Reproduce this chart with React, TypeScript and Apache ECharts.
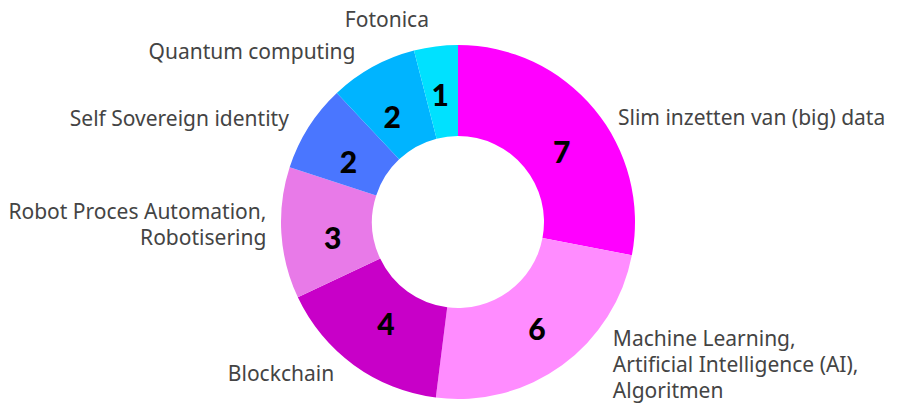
import React, { useEffect, useRef } from "react";
import * as echarts from "echarts";

const categories = [
  "Slim inzetten van (big) data",
  "Machine Learning,\nArtificial Intelligence (AI),\nAlgoritmen",
  "Blockchain",
  "Robot Proces Automation,\nRobotisering",
  "Self Sovereign identity",
  "Quantum computing",
  "Fotonica",
];
const values = [7, 6, 4, 3, 2, 2, 1];
const colors = ["#ff00ff", "#ff8cff", "#c800c8", "#e87ae8", "#4a76ff", "#00b4ff", "#00e1ff"];
// per-label nudges (layout only)
const outerShift = [
  [7, 17],
  [37, -13],
  [-6, -4],
  [5, -10],
  [-2, -1],
  [-5, -3],
  [0, -13],
];
const innerShift = [
  [0, 15],
  [0, -3],
  [7, -8],
  [9, 7],
  [4, 11],
  [-1, 12],
  [-1, 5],
];

export default function App() {
  const ref = useRef<HTMLDivElement>(null);
  useEffect(() => {
    if (!ref.current) return;
    const chart = echarts.init(ref.current, null, { renderer: "svg" });
    const data = categories.map((c, i) => ({ name: c, value: values[i], itemStyle: { color: colors[i] } }));
    chart.setOption({
      animation: false,
      backgroundColor: "#ffffff",
      series: [
        {
          type: "pie",
          center: [458, 222],
          radius: [86, 177],
          startAngle: 90,
          clockwise: true,
          avoidLabelOverlap: false,
          silent: true,
          data,
          label: {
            show: true,
            position: "outside",
            color: "#444444",
            fontFamily: "Noto Sans",
            fontSize: 21,
            lineHeight: 26,
            formatter: "{b}",
          },
          labelLine: { show: false, length: 15, length2: 0 },
          labelLayout: (p: any) => {
            const s = outerShift[p.dataIndex] || [0, 0];
            return { dx: s[0], dy: s[1] };
          },
        },
        {
          type: "pie",
          center: [458, 222],
          radius: [86, 177],
          startAngle: 90,
          clockwise: true,
          avoidLabelOverlap: false,
          silent: true,
          data: categories.map((c, i) => ({ name: c, value: values[i] })),
          itemStyle: { color: "rgba(0,0,0,0)" },
          label: {
            show: true,
            position: "inside",
            color: "#000000",
            fontFamily: "Lato",
            fontWeight: 900,
            fontSize: 30,
            formatter: "{c}",
          },
          labelLine: { show: false },
          labelLayout: (p: any) => {
            const s = innerShift[p.dataIndex] || [0, 0];
            return { dx: s[0], dy: s[1] };
          },
        },
      ],
    });
    return () => chart.dispose();
  }, []);
  return (
    <div
      ref={ref}
      style={{ position: "fixed", left: 0, top: 0, width: 901, height: 404, background: "#fff" }}
    />
  );
}
